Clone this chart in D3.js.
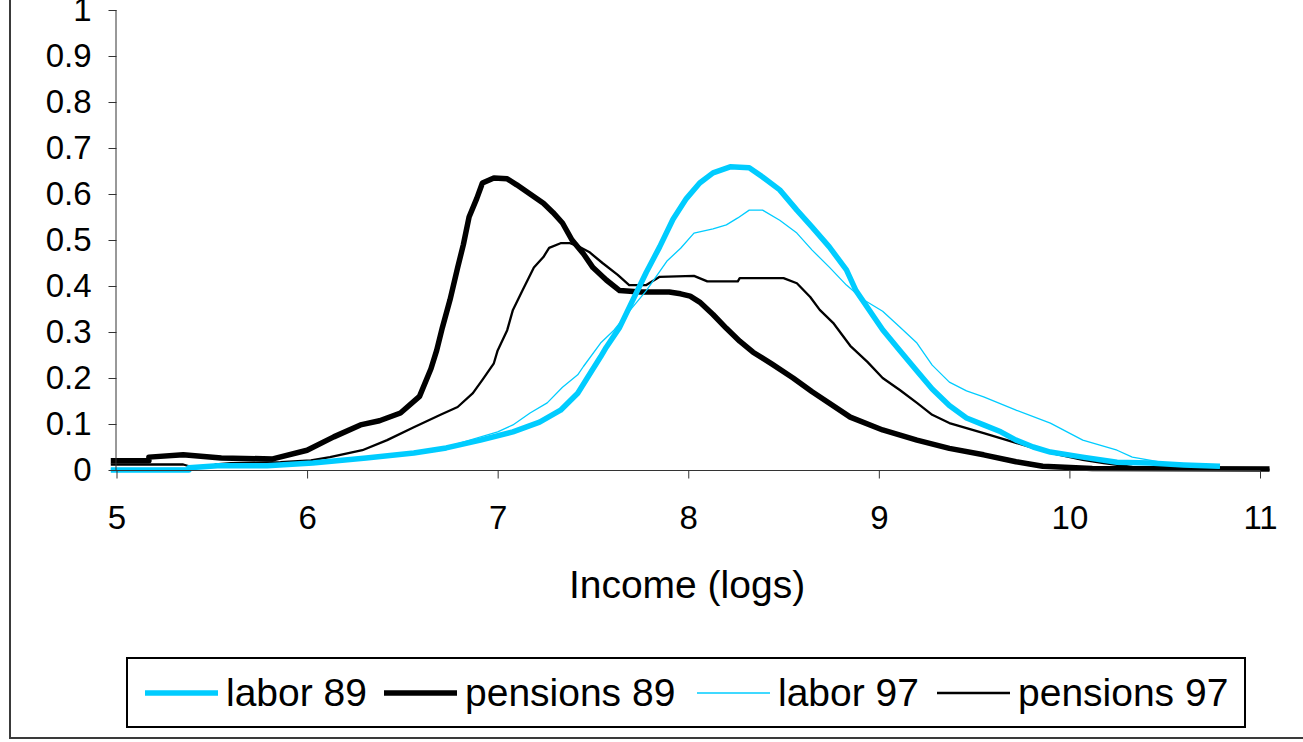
<!DOCTYPE html>
<html><head><meta charset="utf-8">
<script src="https://cdn.jsdelivr.net/npm/d3@7"></script>
<style>html,body{margin:0;padding:0;background:#fff;}svg{display:block;font-family:"Liberation Sans",Arial,sans-serif;}</style>
</head><body>
<svg id="c" width="1303" height="742"></svg>
<script>
// ---- data ----
const xTicks = [5, 6, 7, 8, 9, 10, 11];
const yTicks = [0, 0.1, 0.2, 0.3, 0.4, 0.5, 0.6, 0.7, 0.8, 0.9, 1];
const yTickLabels = ["0", "0.1", "0.2", "0.3", "0.4", "0.5", "0.6", "0.7", "0.8", "0.9", "1"];
const seriesNames = ["labor 89", "pensions 89", "labor 97", "pensions 97"];
const xLabel = "Income (logs)";

const labor89X = [4.97,5.38,5.38,5.53,5.79,6.03,6.31,6.56,6.73,6.91,7.08,7.22,7.33,7.42,7.47,7.54,7.57,7.64,7.71,7.78,7.85,7.92,7.99,8.06,8.13,8.22,8.32,8.39,8.48,8.57,8.65,8.74,8.83,8.88,9.02,9.11,9.20,9.28,9.37,9.46,9.55,9.64,9.72,9.81,9.90,10.07,10.25,10.42,10.60,10.79];
const labor89Y = [0.0,0.0,0.005,0.009,0.009,0.015,0.026,0.037,0.048,0.065,0.083,0.104,0.13,0.167,0.2,0.246,0.267,0.31,0.37,0.43,0.485,0.545,0.59,0.624,0.646,0.659,0.657,0.637,0.609,0.565,0.528,0.485,0.435,0.39,0.305,0.26,0.215,0.176,0.14,0.113,0.098,0.083,0.065,0.05,0.039,0.028,0.017,0.015,0.011,0.008];

const pensions89X = [4.97,5.17,5.17,5.35,5.55,5.82,6.0,6.14,6.28,6.38,6.49,6.59,6.65,6.68,6.71,6.75,6.79,6.82,6.85,6.89,6.92,6.98,7.05,7.10,7.17,7.24,7.29,7.34,7.39,7.45,7.50,7.57,7.64,7.75,7.90,7.96,8.01,8.06,8.13,8.20,8.27,8.34,8.44,8.55,8.65,8.85,9.02,9.20,9.37,9.55,9.72,9.86,10.12,11.05];
const pensions89Y = [0.02,0.02,0.028,0.033,0.026,0.024,0.043,0.072,0.098,0.107,0.124,0.16,0.22,0.26,0.31,0.37,0.44,0.49,0.55,0.59,0.624,0.635,0.633,0.62,0.60,0.58,0.56,0.537,0.50,0.47,0.44,0.413,0.39,0.387,0.387,0.383,0.378,0.365,0.338,0.308,0.28,0.256,0.23,0.2,0.17,0.115,0.087,0.065,0.047,0.033,0.018,0.008,0.003,0.002];

const labor97X = [4.97,5.4,5.8,6.38,6.73,7.0,7.08,7.17,7.26,7.34,7.42,7.45,7.54,7.61,7.69,7.78,7.89,7.96,8.03,8.13,8.20,8.26,8.32,8.39,8.48,8.57,8.65,8.74,8.83,8.92,9.02,9.11,9.20,9.28,9.37,9.46,9.55,9.72,9.90,10.07,10.25,10.33,10.51,10.60,10.79];
const labor97Y = [0.002,0.004,0.01,0.028,0.05,0.083,0.098,0.124,0.146,0.18,0.207,0.225,0.276,0.304,0.345,0.39,0.455,0.482,0.515,0.524,0.533,0.548,0.565,0.565,0.543,0.515,0.478,0.441,0.402,0.37,0.345,0.311,0.276,0.228,0.191,0.172,0.159,0.13,0.102,0.065,0.043,0.028,0.015,0.011,0.006];

const pensions97X = [4.97,5.35,5.40,5.48,5.52,5.60,5.86,6.02,6.12,6.29,6.42,6.56,6.70,6.79,6.87,6.92,6.98,7.00,7.05,7.08,7.13,7.19,7.24,7.27,7.33,7.38,7.43,7.48,7.55,7.63,7.69,7.78,7.85,8.03,8.10,8.26,8.27,8.50,8.57,8.64,8.69,8.76,8.85,8.94,9.02,9.11,9.20,9.28,9.37,9.55,9.72,9.90,10.07,10.18,10.33,10.63,11.05];
const pensions97Y = [0.012,0.012,0.006,0.006,0.012,0.015,0.017,0.021,0.028,0.043,0.065,0.093,0.12,0.137,0.167,0.196,0.232,0.26,0.304,0.348,0.39,0.44,0.463,0.483,0.493,0.493,0.485,0.474,0.45,0.424,0.402,0.402,0.42,0.422,0.41,0.41,0.417,0.417,0.406,0.376,0.348,0.32,0.27,0.235,0.2,0.174,0.146,0.12,0.102,0.08,0.059,0.037,0.022,0.015,0.007,0.003,0.001];

// ---- chart ----
const svg = d3.select("#c");
const x = d3.scaleLinear().domain([5, 11]).range([116.5, 1260]);
const y = d3.scaleLinear().domain([0, 1]).range([470, 10]);

// outer frame
svg.append("rect").attr("x", 10).attr("y", -10).attr("width", 1310).attr("height", 748)
  .attr("fill", "none").attr("stroke", "#3a3a3a").attr("stroke-width", 2);

const line = d3.line().x(d => x(d[0])).y(d => y(d[1]));
const zip = (a, b) => a.map((v, i) => [v, b[i]]);
const series = [
  {name: seriesNames[1], data: zip(pensions89X, pensions89Y), color: "#000", w: 5.5},
  {name: seriesNames[3], data: zip(pensions97X, pensions97Y), color: "#000", w: 2.3},
  {name: seriesNames[0], data: zip(labor89X, labor89Y), color: "#00CCFF", w: 5.5},
  {name: seriesNames[2], data: zip(labor97X, labor97Y), color: "#00CCFF", w: 1.3}
];
svg.append("g").selectAll("path").data(series).join("path")
  .attr("d", d => line(d.data)).attr("fill", "none")
  .attr("stroke", d => d.color).attr("stroke-width", d => d.w)
  .attr("stroke-linejoin", "round");

// axes
const yAxis = svg.append("g").attr("transform", "translate(116.5,0)")
  .call(d3.axisLeft(y).tickValues(yTicks).tickFormat((d, i) => yTickLabels[i]).tickSize(8).tickPadding(17));
const xAxis = svg.append("g").attr("transform", "translate(0,470.5)")
  .call(d3.axisBottom(x).tickValues(xTicks).tickFormat(d3.format("d")).tickSize(8).tickPadding(27));
[yAxis, xAxis].forEach(a => {
  a.select(".domain").attr("stroke", "#333");
  a.selectAll(".tick line").attr("stroke", "#333");
  a.selectAll("text").attr("font-size", 33).attr("fill", "#000").attr("font-family", "Liberation Sans, Arial, sans-serif");
});
yAxis.select(".domain").attr("d", "M-0.5,10V470");
xAxis.select(".domain").attr("d", "M116,0H1260");

svg.append("text").attr("x", 687).attr("y", 598).attr("text-anchor", "middle")
  .attr("font-size", 39).text(xLabel);

// legend
const lg = svg.append("g");
lg.append("rect").attr("x", 127).attr("y", 658).attr("width", 1118).attr("height", 69)
  .attr("fill", "#fff").attr("stroke", "#000").attr("stroke-width", 2);
const legendItems = [
  {s: series[2], lx: 145, tx: 227},
  {s: series[0], lx: 384, tx: 466},
  {s: series[3], lx: 697, tx: 779},
  {s: series[1], lx: 937, tx: 1019}
];
legendItems.forEach(it => {
  lg.append("line").attr("x1", it.lx).attr("x2", it.lx + 73).attr("y1", 693).attr("y2", 693)
    .attr("stroke", it.s.color).attr("stroke-width", it.s.w);
  lg.append("text").attr("x", it.tx - 1).attr("y", 706).attr("font-size", 39).text(it.s.name);
});
</script>
</body></html>
